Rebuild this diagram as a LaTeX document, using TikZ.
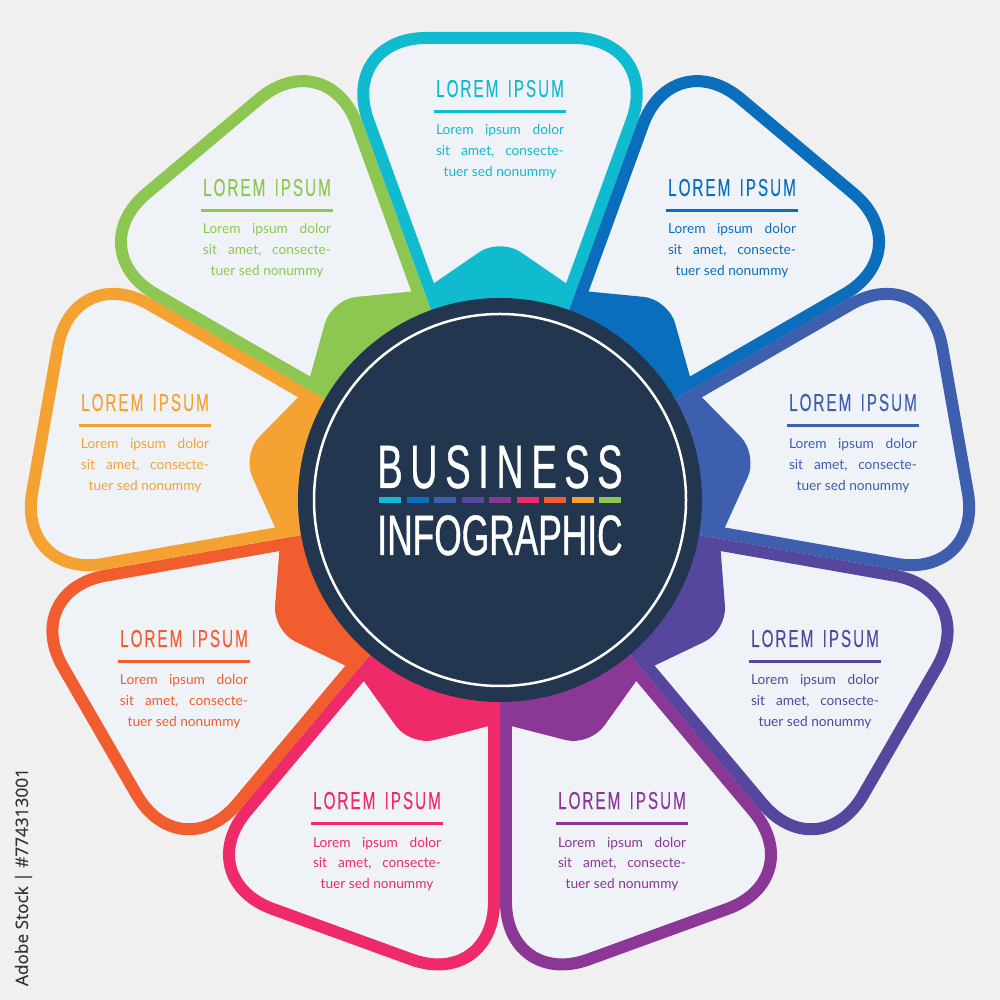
\documentclass[tikz,border=0pt]{standalone}
\usepackage{fontspec}
\usetikzlibrary{positioning}
\setmainfont{Lato}
\newfontfamily\headfont[FakeStretch=0.62,FakeBold=0.2,LetterSpace=8,WordSpace=1.5]{Liberation Sans}
\newfontfamily\bigfont[FakeStretch=0.62,FakeBold=0.7]{Liberation Sans}
\newfontfamily\stockfont[FakeBold=0.3]{Open Sans}
\definecolor{bggray}{HTML}{F0F0F0}
\definecolor{petalfill}{HTML}{EFF3F7}
\definecolor{navy}{HTML}{233650}
\definecolor{pteal}{HTML}{10BBD0}
\definecolor{pblue}{HTML}{0A6EBD}
\definecolor{psteel}{HTML}{3D5FAE}
\definecolor{pindigo}{HTML}{55479E}
\definecolor{ppurple}{HTML}{8A3795}
\definecolor{ppink}{HTML}{EE2A69}
\definecolor{pred}{HTML}{F15D2F}
\definecolor{porange}{HTML}{F4A232}
\definecolor{pgreen}{HTML}{8DC751}
\tikzset{
  petal/.style={fill=petalfill, line width=0.12cm, rounded corners=0.88cm},
  petaltitle/.style={inner sep=0, minimum width=1.3cm, text depth=0, anchor=base, font=\headfont\fontsize{7}{7}\selectfont},
  petalbody/.style={inner sep=0, align=center, font=\fontsize{3.9}{5.97}\selectfont},
  bigtitle/.style={inner sep=0, text=white, text depth=0, anchor=base}
}
\newcommand{\bodytext}{\makebox[1.28cm][s]{Lorem\hfil ipsum\hfil dolor}\\
  \makebox[1.28cm][s]{sit\hfil amet,\hfil consecte-}\\ tuer sed nonummy}
\begin{document}
\begin{tikzpicture}
\useasboundingbox (-5,-5) rectangle (5,5);
\fill[bggray] (-5,-5) rectangle (5,5);
% petals
\foreach \i/\rot/\col/\tx/\ty in {1/0/pteal/0/4.03, 2/-40/pblue/2.32/3.04, 3/-80/psteel/3.53/0.89,
    4/-120/pindigo/3.15/-1.47, 5/-160/ppurple/1.22/-3.09, 6/-200/ppink/-1.23/-3.09,
    7/-240/pred/-3.16/-1.47, 8/-280/porange/-3.55/0.89, 9/-320/pgreen/-2.33/3.04}{
  \draw[petal, draw=\col, rotate=\rot] (0,0.175) -- (1.618,4.62) -- (-1.618,4.62) -- cycle;
  \fill[\col, rotate=\rot] (0,0) -- (-0.70,2.14) [rounded corners=0.25cm] -- (0,2.62) [sharp corners] -- (0.70,2.14) -- cycle;
  \node[petaltitle, text=\col] (title\i) at (\tx,\ty) {LOREM IPSUM};
  \draw[\col, line width=0.03cm] ([yshift=-0.138cm]title\i.south west) -- ([yshift=-0.138cm]title\i.south east);
  \node[petalbody, text=\col, below=0.265cm of title\i.south] (body\i) {\bodytext};
}
% center
\fill[navy] (0,0) circle (2.02);
\draw[white, line width=0.025cm] (0,0) circle (1.86);
\node[bigtitle, font=\bigfont\fontsize{17.4}{17.4}\selectfont\addfontfeature{LetterSpace=12.5}] (business) at (0,0.12) {BUSINESS};
\node[bigtitle, font=\bigfont\fontsize{16.2}{16.2}\selectfont] (infographic) at (0,-0.55) {INFOGRAPHIC};
\foreach \n/\col in {0/pteal,1/pblue,2/psteel,3/pindigo,4/ppurple,5/ppink,6/pred,7/porange,8/pgreen}{
  \fill[\col] (-1.21+\n*0.275,-0.03) rectangle ++(0.22,0.06);
}
\node[rotate=90, anchor=base, text=black!80, font=\stockfont\fontsize{4.9}{5}\selectfont] (stock) at (-4.72,-3.77) {Adobe Stock | \#774313001};
\end{tikzpicture}
\end{document}
